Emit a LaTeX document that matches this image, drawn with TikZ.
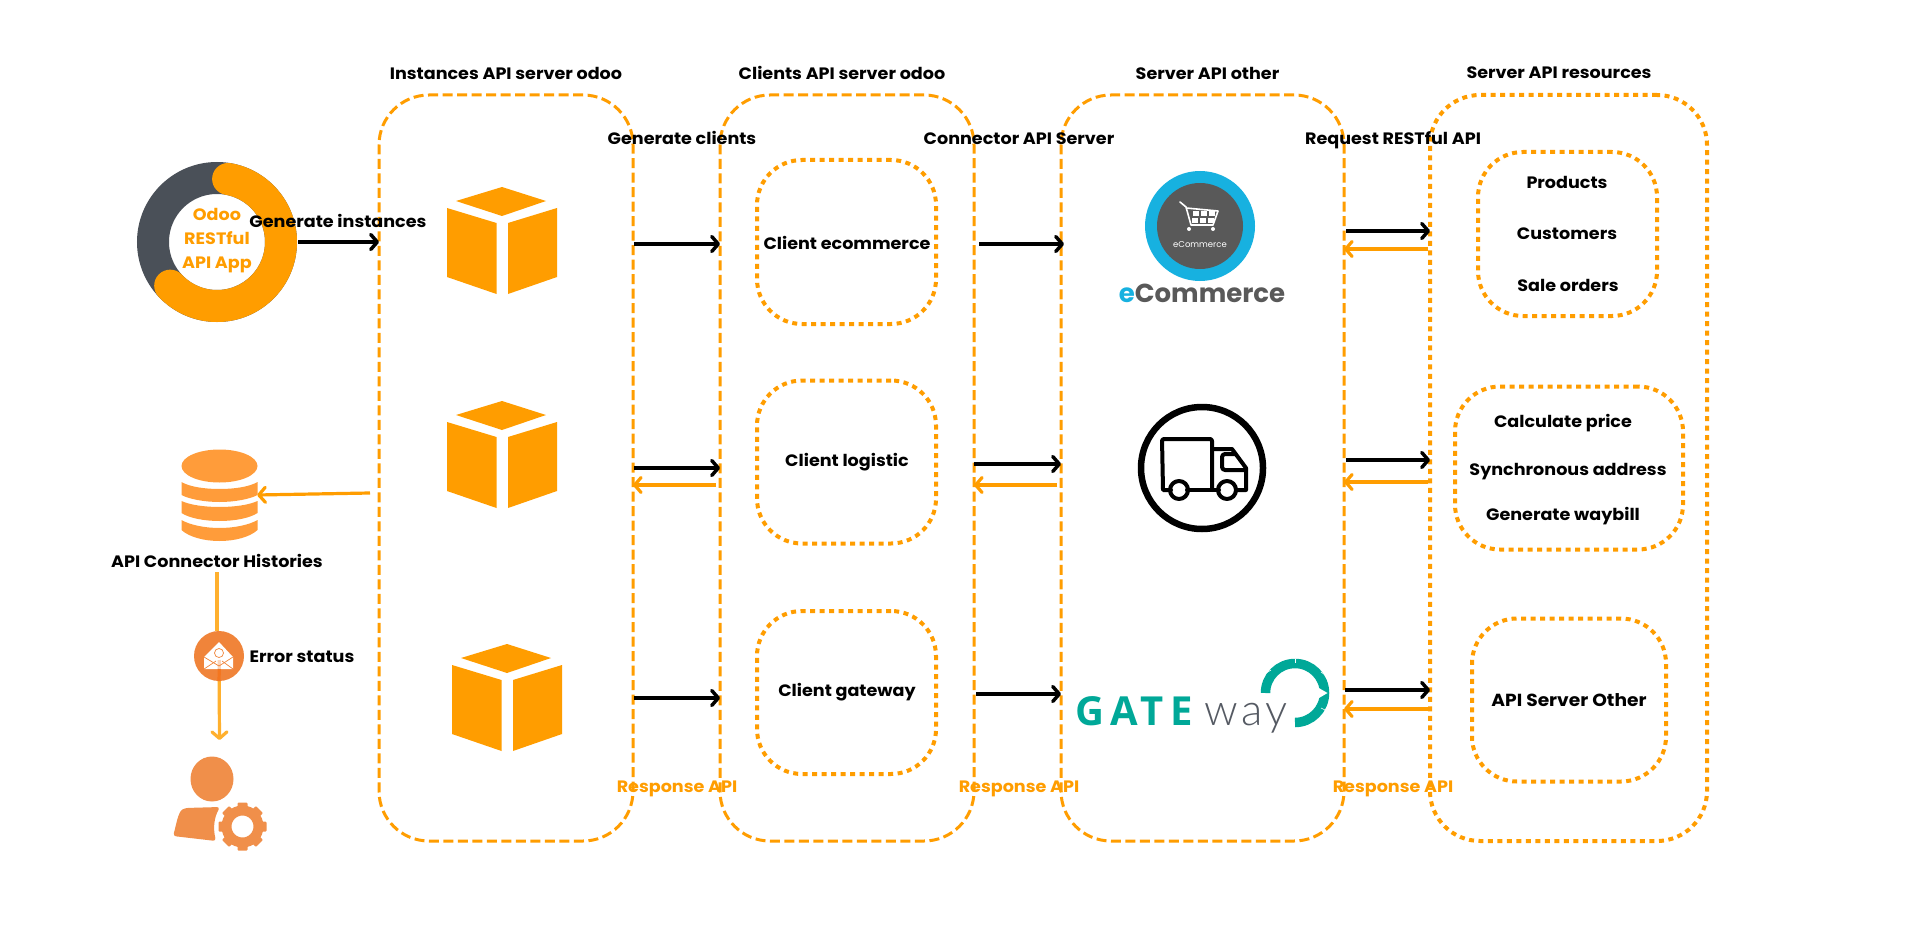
\documentclass[tikz,border=0pt]{standalone}
\usepackage{fontspec}
\setmainfont{Poppins}[FakeStretch=1.065]
\newfontfamily\gatefont{Open Sans}
\newfontfamily\wayfont{Lato Light}
\newfontfamily\logofont{Poppins}
\usetikzlibrary{arrows.meta,calc}
\definecolor{ora}{HTML}{FF9D00}
\definecolor{ora2}{HTML}{FFB02E}
\definecolor{slate}{HTML}{4A5058}
\definecolor{dbo}{HTML}{FF9C3A}
\definecolor{usr}{HTML}{F08F4A}
\definecolor{mailc}{HTML}{F0843A}
\definecolor{maild}{HTML}{F4761F}
\definecolor{ecb}{HTML}{17B1E0}
\definecolor{ecg}{HTML}{595959}
\definecolor{teal}{HTML}{00A898}
\definecolor{wayg}{HTML}{555A63}
\tikzset{
 x=1pt,y=-1pt,
 dashbox/.style={draw=ora,line width=3pt,dash pattern=on 10pt off 4.5pt,rounded corners=50pt,inner sep=0pt,outer sep=0pt},
 dotbox/.style={draw=ora,line width=4pt,dash pattern=on 5pt off 4.5pt,inner sep=0pt,outer sep=0pt},
 lbl/.style={font=\fontsize{16.5}{19}\selectfont\bfseries,inner sep=0pt,text=black,yshift=-1pt},
 orlbl/.style={lbl,text=ora},
 tip/.style={-{Straight Barb[length=6.5pt,width=15pt,round]}},
 blk/.style={tip,draw=black,line width=3.5pt},
 org/.style={tip,draw=ora,line width=3.2pt},
 cubeface/.style={fill=ora,draw=none},
 pics/cubeicon/.style={code={
   \fill[cubeface] (0,-53)--(44,-39)--(0,-24)--(-46,-39)--cycle;
   \fill[cubeface] (-55,-32)--(-5.5,-17)--(-5.5,54)--(-55,37)--cycle;
   \fill[cubeface] (6,-17)--(55,-32)--(55,37)--(6,54)--cycle;
 }}
}
\begin{document}
\begin{tikzpicture}
\useasboundingbox (0,0) rectangle (1916,936);
\fill[white] (0,0) rectangle (1916,936);

% columns
\node[dashbox,minimum width=254pt,minimum height=746pt] (b1) at (506,468) {};
\node[dashbox,minimum width=254pt,minimum height=746pt] (b2) at (847,468) {};
\node[dashbox,minimum width=283pt,minimum height=746pt] (b3) at (1202.5,468) {};
\node[dotbox,rounded corners=50pt,minimum width=277pt,minimum height=746pt] (b4) at (1568.5,468) {};

% inner boxes
\node[dotbox,rounded corners=45pt,minimum width=179pt,minimum height=164pt] (c1) at (846.5,242) {};
\node[dotbox,rounded corners=45pt,minimum width=179pt,minimum height=163pt] (c2) at (846.5,462) {};
\node[dotbox,rounded corners=45pt,minimum width=179pt,minimum height=163pt] (c3) at (846.5,692.5) {};
\node[dotbox,rounded corners=45pt,minimum width=179pt,minimum height=164pt] (s1) at (1567.5,234) {};
\node[dotbox,rounded corners=45pt,minimum width=228pt,minimum height=163pt] (s2) at (1569,468) {};
\node[dotbox,rounded corners=45pt,minimum width=194pt,minimum height=163pt] (s3) at (1569,700) {};

% titles
\node[lbl] (t1) at (506,72) {Instances API server odoo};
\node[lbl] (t2) at (842,72) {Clients API server odoo};
\node[lbl] (t3) at (1207.5,72) {Server API other};
\node[lbl] (t4) at (1559,72) {Server API resources};

% cubes
\pic at (502,240) {cubeicon};
\pic at (502,454) {cubeicon};
\pic at (507,697) {cubeicon};

% donut
\begin{scope}[shift={(217,242)},y=1pt]
 \draw[slate,line width=32pt] (0,0) circle (64pt);
 \draw[ora,line width=32pt,line cap=round] (80:64pt) arc (80:-137:64pt);
\end{scope}
\node[orlbl,align=center,font=\fontsize{16.5}{24}\selectfont\bfseries] (app) at (217,240) {Odoo\\RESTful\\API App};
\coordinate (appR) at (298,242);
\node[lbl] (gi) at (338,220) {Generate instances};

% rows
\coordinate (ra1) at (0,244);
\coordinate (ra2) at (0,468);
\coordinate (ra2o) at (0,485);
\coordinate (ra3) at (0,698);
\coordinate (rb2) at (0,464);
\coordinate (rb3) at (0,694);
\coordinate (rc1) at (0,231);
\coordinate (rc1o) at (0,249);
\coordinate (rc2) at (0,460);
\coordinate (rc2o) at (0,482);
\coordinate (rc3) at (0,690);
\coordinate (rc3o) at (0,709);

\draw[blk] (appR) -- (b1.west |- appR);
\draw[blk,shorten <=1pt] (b1.east |- ra1) -- (b2.west |- ra1);
\draw[blk,shorten <=1pt] (b1.east |- ra2) -- (b2.west |- ra2);
\draw[org,shorten <=4pt] (b2.west |- ra2o) -- (b1.east |- ra2o);
\draw[blk,shorten <=1pt] (b1.east |- ra3) -- (b2.west |- ra3);

\draw[blk,shorten <=5pt,shorten >=-3pt] (b2.east |- ra1) -- (b3.west |- ra1);
\draw[blk] (b2.east |- rb2) -- (b3.west |- rb2);
\draw[org,shorten <=4pt] (b3.west |- ra2o) -- (b2.east |- ra2o);
\draw[blk,shorten <=2pt] (b2.east |- rb3) -- (b3.west |- rb3);

\draw[blk,shorten <=2pt] (b3.east |- rc1) -- (b4.west |- rc1);
\draw[org,shorten <=2pt] (b4.west |- rc1o) -- (b3.east |- rc1o);
\draw[blk,shorten <=2pt] (b3.east |- rc2) -- (b4.west |- rc2);
\draw[org,shorten <=2pt] (b4.west |- rc2o) -- (b3.east |- rc2o);
\draw[blk,shorten <=1pt] (b3.east |- rc3) -- (b4.west |- rc3);
\draw[org,shorten <=1pt] (b4.west |- rc3o) -- (b3.east |- rc3o);

% connector labels
\node[lbl] (l1) at (682,137) {Generate clients};
\node[lbl] (l2) at (1019,138) {Connector API Server};
\node[lbl] (l3) at (1393,139) {Request RESTful API};
\node[orlbl] (r1) at (677,788) {Response API};
\node[orlbl] (r2) at (1019,788) {Response API};
\node[orlbl] (r3) at (1393,788) {Response API};

% inner text
\node[lbl] (tc1) at (847,241.5) {Client ecommerce};
\node[lbl] (tc2) at (847,461.5) {Client logistic};
\node[lbl] (tc3) at (847,691.5) {Client gateway};
\node[lbl] (ts1) at (1567,181) {Products};
\node[lbl] (ts2) at (1567,233) {Customers};
\node[lbl] (ts3) at (1568,284) {Sale orders};
\node[lbl] (ts4) at (1563,422) {Calculate price};
\node[lbl] (ts5) at (1568,471) {Synchronous address};
\node[lbl] (ts6) at (1563,515) {Generate waybill};
\node[lbl,font=\fontsize{17.5}{19}\selectfont\bfseries] (ts7) at (1569,699) {API Server Other};

% eCommerce logo
\fill[ecb] (1200,226) circle (55pt);
\fill[ecg] (1200,226) circle (43pt);
\begin{scope}[white]
 \draw[line width=1.6pt,line cap=round,line join=round] (1180,202) -- (1186,207) -- (1191,225) -- (1213,225);
 \draw[line width=1.6pt,line join=round] (1186,208) -- (1218,211) -- (1213,225);
 \foreach \cx in {1193,1201,1209}{
   \fill (\cx,211) rectangle +(6,5);
   \fill (\cx-1,218) rectangle +(6,5);}
 \fill (1189,229) circle (2pt);
 \fill (1213,229) circle (2pt);
\end{scope}
\node[inner sep=0pt,text=white,font=\logofont\fontsize{8.5}{10}\selectfont] (ecs) at (1200,245) {eCommerce};
\node[inner sep=0pt,text=ecg,font=\logofont\fontsize{26}{30}\selectfont\bfseries] (ecbig) at (1202,293) {\textcolor{ecb}{e}Commerce};

% truck
\draw[black,line width=6.5pt] (1202,468) circle (61pt);
\begin{scope}[line width=4pt,line join=round,line cap=round,draw=black]
 \draw[black] (1171,490) -- (1163,490) [rounded corners=2pt] -- (1162,439) -- (1212,439) -- (1212,490);
 \draw[black] (1187,490) -- (1219,490);
 \draw[black] (1212,449) -- (1232,449) -- (1246,468) -- (1246,490) -- (1236,490);
 \draw[black,rounded corners=3pt] (1235,454) -- (1222,454) -- (1222,470) -- (1246,470);
 \draw[black] (1179,490) circle (9pt);
 \draw[black] (1227,490) circle (9pt);
\end{scope}

% gateway
\node[anchor=base west,inner sep=0pt,text=teal,font=\gatefont\bfseries\fontsize{40}{44}\selectfont] (gw) at (1075,725) {\addfontfeature{LetterSpace=15}GATE};
\node[anchor=base west,inner sep=0pt,text=wayg,font=\wayfont\fontsize{44}{46}\selectfont] (wy) at (1204,725) {\addfontfeature{LetterSpace=8}way};
\begin{scope}[shift={(1295,693)},y=1pt]
 \draw[teal,line width=9.5pt] (180:29.5pt) arc (180:-90:29.5pt);
 \fill[white] (22,6) -- (32.5,0) -- (24,-5) -- (22,-4) -- cycle;
 \draw[white,line width=.6pt] (0,34) -- (0,30);
 \draw[white,line width=.6pt] (26,21) -- (30,18);
 \draw[white,line width=.6pt] (26,-15) -- (30,-17);
 \draw[white,line width=.6pt] (-24,23) -- (-29,20);
\end{scope}

% database
\begin{scope}[dbo]
 \fill (219.5,466) ellipse (38pt and 16.5pt);
 \fill (181.5,482) .. controls (190,487) and (205,489) .. (219.5,489) .. controls (234,489) and (249,487) .. (257.5,482)
   -- (257.5,495) .. controls (250,499) and (235,502) .. (219.5,502) .. controls (204,502) and (189,499) .. (181.5,495) -- cycle;
 \fill (181.5,501) .. controls (190,505) and (205,507) .. (219.5,507) .. controls (234,507) and (249,505) .. (257.5,501)
   -- (257.5,513) .. controls (250,518) and (235,521) .. (219.5,521) .. controls (204,521) and (189,518) .. (181.5,513) -- cycle;
 \fill (181.5,520) .. controls (190,525) and (205,528) .. (219.5,528) .. controls (234,528) and (249,525) .. (257.5,520)
   -- (257.5,530) .. controls (250,537) and (235,541) .. (219.5,541) .. controls (204,541) and (189,537) .. (181.5,530) -- cycle;
\end{scope}
\node[inner sep=0pt,minimum size=0pt] (db) at (257,495) {};
\coordinate (b1tap) at (370,493);
\draw[org] (b1tap) -- (db);
\node[lbl] (hist) at (217,560) {API Connector Histories};

% mail
\coordinate (h0) at (217,572);
\node[circle,minimum size=50pt,inner sep=0pt] (mail) at (219,656) {};
\draw[draw=ora2,line width=3.2pt] (h0) -- (mail.north -| h0);
\coordinate (arrowEnd) at (219.5,740);
\draw[tip,draw=ora2,line width=3.2pt] (mail.center) -- (arrowEnd);
\fill[mailc] (mail.center) circle (25pt);
\fill[white] (204,657) -- (219,642) -- (233,657) -- (233,669) -- (204,669) -- cycle;
\draw[mailc,line width=.7pt] (204,657) -- (219,666) -- (233,657);
\draw[mailc,line width=.7pt] (204,669) -- (216,661);
\draw[mailc,line width=.7pt] (233,669) -- (222,661);
\draw[mailc,line width=.7pt] (219,653) circle (4.5pt);
\draw[maild,line width=3.2pt] (219.3,669) -- (mail.south);
\draw[maild,opacity=.3,line width=3.2pt] (219.2,660) -- (219.3,669);
\node[lbl] (err) at (302,655.5) {Error status};

% user
\fill[usr] (212,779) ellipse (21.5pt and 22.5pt);
\fill[usr,rounded corners=3pt] (173,836) .. controls (176,826) and (178,812) .. (185,808) -- (220,807) .. controls (214,818) and (213,828) .. (216,841) -- cycle;
\begin{scope}[shift={(242.5,826.5)}]
 \draw[usr,line width=10pt] (0,0) circle (16pt);
 \foreach \a in {0,45,...,315}{
   \fill[usr,rotate=\a,rounded corners=1pt] (-5,-24) rectangle (5,-15);}
\end{scope}
\end{tikzpicture}
\end{document}
